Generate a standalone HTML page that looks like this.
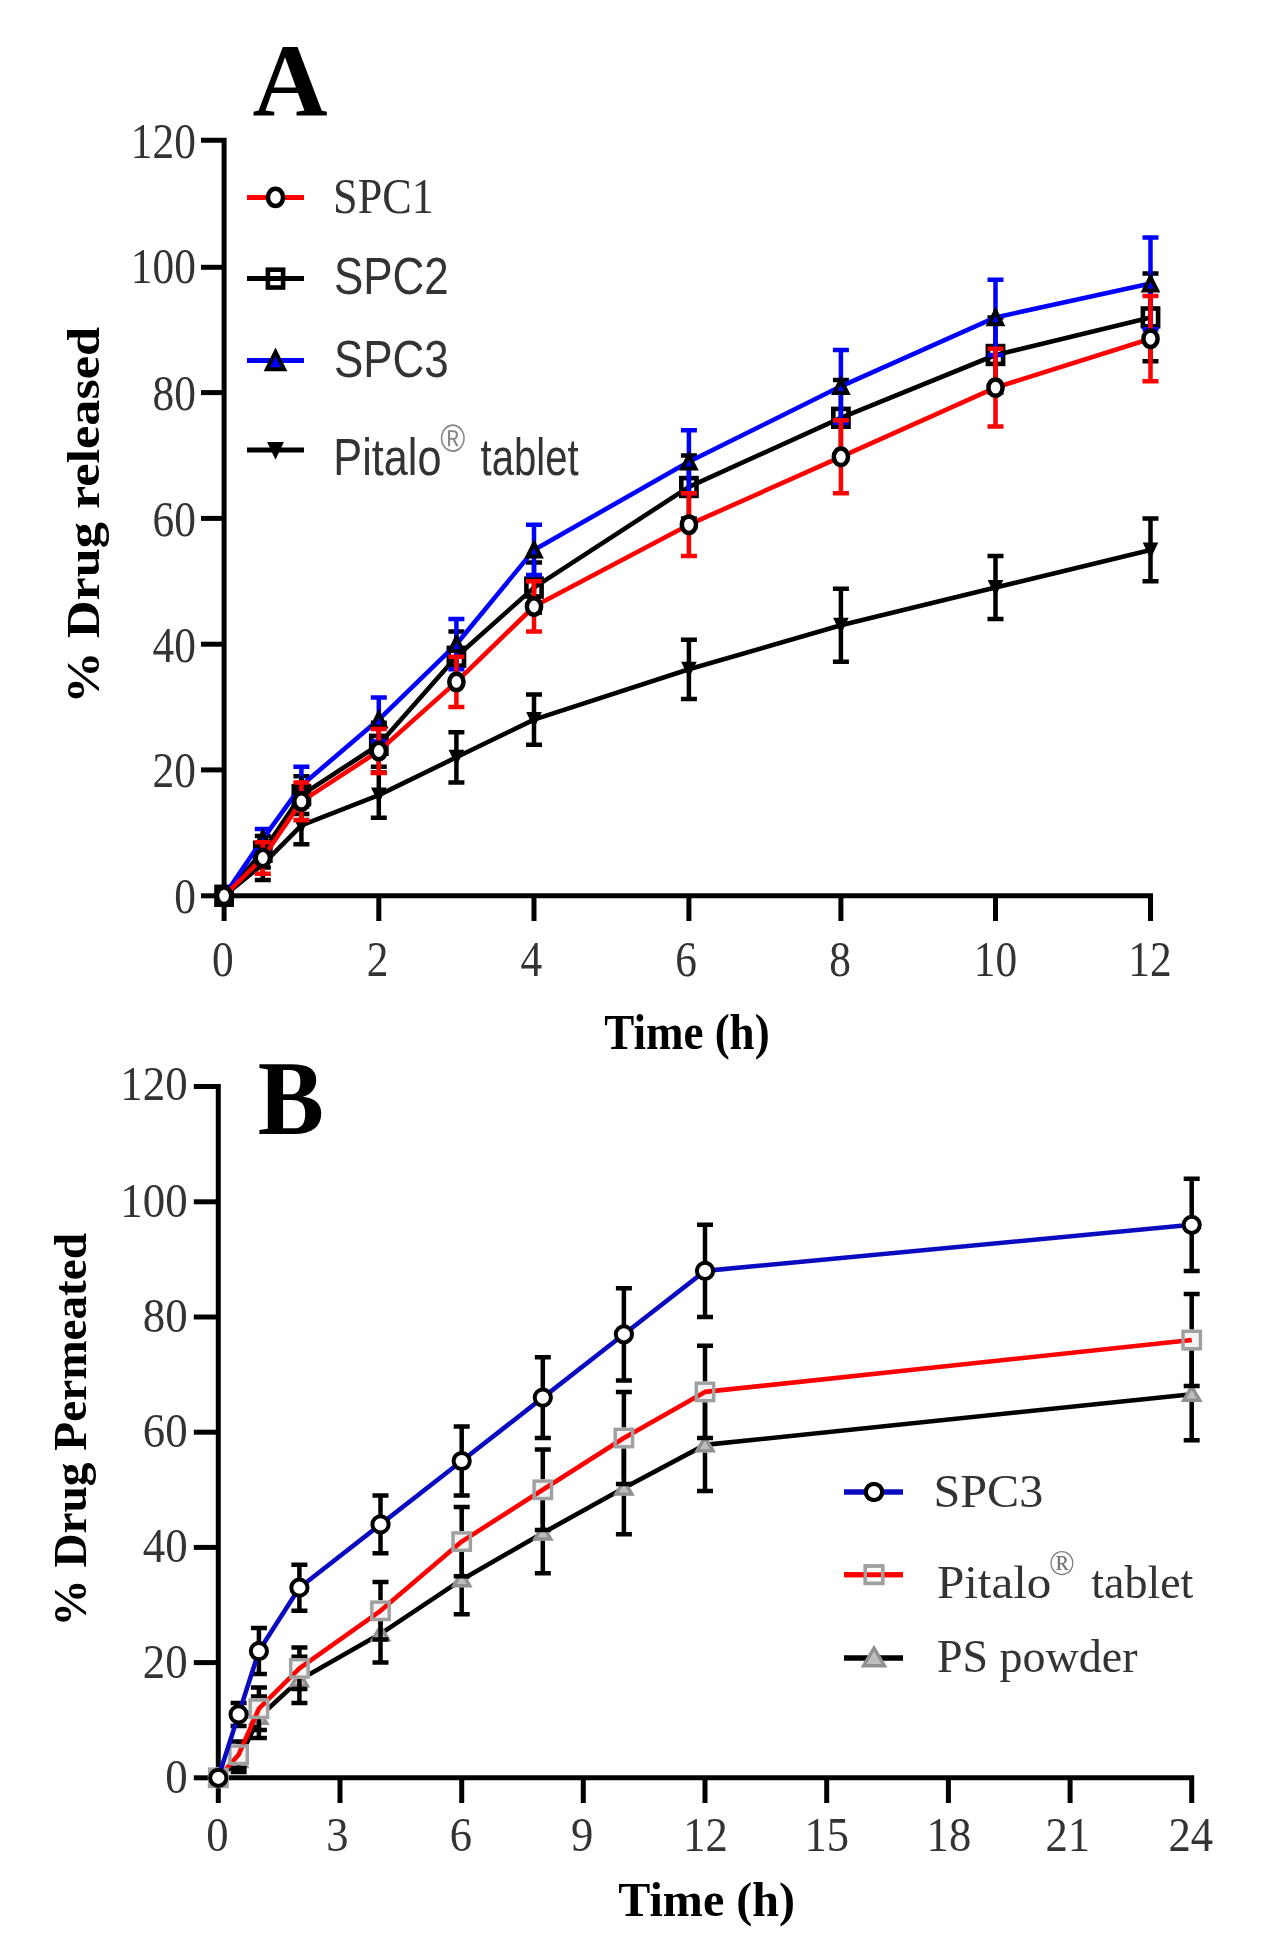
<!DOCTYPE html><html><head><meta charset="utf-8"><style>html,body{margin:0;padding:0;background:#fff;}svg{display:block;will-change:transform}.s{font-family:"Liberation Serif",serif} .n{font-family:"Liberation Sans",sans-serif}</style></head><body>
<svg width="1276" height="1956" viewBox="0 0 1276 1956">
<rect width="1276" height="1956" fill="#fff"/>
<path d="M201,140.2H224.1V895.8H1150.5V921" fill="none" stroke="#000" stroke-width="5.0" stroke-linejoin="miter"/>
<path d="M201,895.8H224.1" stroke="#000" stroke-width="5.0"/>
<path d="M201,769.9H224.1" stroke="#000" stroke-width="5.0"/>
<path d="M201,644.2H224.1" stroke="#000" stroke-width="5.0"/>
<path d="M201,518.4H224.1" stroke="#000" stroke-width="5.0"/>
<path d="M201,392.6H224.1" stroke="#000" stroke-width="5.0"/>
<path d="M201,267.3H224.1" stroke="#000" stroke-width="5.0"/>
<path d="M224.1,895.8V921" stroke="#000" stroke-width="5.0"/>
<path d="M378.8,895.8V921" stroke="#000" stroke-width="5.0"/>
<path d="M534.0,895.8V921" stroke="#000" stroke-width="5.0"/>
<path d="M688.9,895.8V921" stroke="#000" stroke-width="5.0"/>
<path d="M840.9,895.8V921" stroke="#000" stroke-width="5.0"/>
<path d="M995.5,895.8V921" stroke="#000" stroke-width="5.0"/>
<text class="s" font-size="51" text-anchor="end" transform="translate(195.8,913.1) scale(0.85,1)" fill="#333">0</text>
<text class="s" font-size="51" text-anchor="end" transform="translate(195.8,787.2) scale(0.85,1)" fill="#333">20</text>
<text class="s" font-size="51" text-anchor="end" transform="translate(195.8,661.5) scale(0.85,1)" fill="#333">40</text>
<text class="s" font-size="51" text-anchor="end" transform="translate(195.8,535.7) scale(0.85,1)" fill="#333">60</text>
<text class="s" font-size="51" text-anchor="end" transform="translate(195.8,409.9) scale(0.85,1)" fill="#333">80</text>
<text class="s" font-size="51" text-anchor="end" transform="translate(195.8,283.4) scale(0.85,1)" fill="#333">100</text>
<text class="s" font-size="51" text-anchor="end" transform="translate(195.8,157.5) scale(0.85,1)" fill="#333">120</text>
<text class="s" font-size="51" text-anchor="middle" transform="translate(222.8,975.5) scale(0.85,1)" fill="#333">0</text>
<text class="s" font-size="51" text-anchor="middle" transform="translate(377.5,975.5) scale(0.85,1)" fill="#333">2</text>
<text class="s" font-size="51" text-anchor="middle" transform="translate(531.3,975.5) scale(0.85,1)" fill="#333">4</text>
<text class="s" font-size="51" text-anchor="middle" transform="translate(686.1,975.5) scale(0.85,1)" fill="#333">6</text>
<text class="s" font-size="51" text-anchor="middle" transform="translate(840.1,975.5) scale(0.85,1)" fill="#333">8</text>
<text class="s" font-size="51" text-anchor="middle" transform="translate(995.5,975.5) scale(0.85,1)" fill="#333">10</text>
<text class="s" font-size="51" text-anchor="middle" transform="translate(1150.0,975.5) scale(0.85,1)" fill="#333">12</text>
<text class="s" font-weight="bold" font-size="104" transform="translate(252.5,116.2)">A</text>
<text class="s" font-weight="bold" font-size="51.4" transform="translate(604.2,1049.4) scale(0.876,1)">Time (h)</text>
<text class="s" font-weight="bold" font-size="45.5" transform="translate(99.2,703.7) rotate(-90) scale(1.150,1)">% Drug released</text>
<path d="M262.8,848.6V880.1M254.8,848.6H270.8M254.8,880.1H270.8" stroke="#000" stroke-width="4.5" fill="none"/>
<path d="M301.4,806.4V844.2M293.4,806.4H309.4M293.4,844.2H309.4" stroke="#000" stroke-width="4.5" fill="none"/>
<path d="M378.8,772.4V817.7M370.8,772.4H386.8M370.8,817.7H386.8" stroke="#000" stroke-width="4.5" fill="none"/>
<path d="M456.4,732.2V782.5M448.4,732.2H464.4M448.4,782.5H464.4" stroke="#000" stroke-width="4.5" fill="none"/>
<path d="M534.0,694.5V744.8M526.0,694.5H542.0M526.0,744.8H542.0" stroke="#000" stroke-width="4.5" fill="none"/>
<path d="M688.9,639.8V698.9M680.9,639.8H696.9M680.9,698.9H696.9" stroke="#000" stroke-width="4.5" fill="none"/>
<path d="M840.9,588.8V661.8M832.9,588.8H848.9M832.9,661.8H848.9" stroke="#000" stroke-width="4.5" fill="none"/>
<path d="M995.5,556.1V619.0M987.5,556.1H1003.5M987.5,619.0H1003.5" stroke="#000" stroke-width="4.5" fill="none"/>
<path d="M1150.5,518.4V581.3M1142.5,518.4H1158.5M1142.5,581.3H1158.5" stroke="#000" stroke-width="4.5" fill="none"/>
<polyline points="224.1,895.8 262.8,864.3 301.4,825.3 378.8,795.1 456.4,757.3 534.0,719.6 688.9,669.3 840.9,625.3 995.5,587.6 1150.5,549.9" fill="none" stroke="#000" stroke-width="4.6" stroke-linejoin="round"/>
<path d="M216.3,888.3L231.9,888.3L224.1,904.8Z" fill="#000"/>
<path d="M255.0,856.8L270.6,856.8L262.8,873.3Z" fill="#000"/>
<path d="M293.6,817.8L309.2,817.8L301.4,834.3Z" fill="#000"/>
<path d="M371.0,787.6L386.6,787.6L378.8,804.1Z" fill="#000"/>
<path d="M448.6,749.8L464.2,749.8L456.4,766.3Z" fill="#000"/>
<path d="M526.2,712.1L541.8,712.1L534.0,728.6Z" fill="#000"/>
<path d="M681.1,661.8L696.7,661.8L688.9,678.3Z" fill="#000"/>
<path d="M833.1,617.8L848.7,617.8L840.9,634.3Z" fill="#000"/>
<path d="M987.7,580.1L1003.3,580.1L995.5,596.6Z" fill="#000"/>
<path d="M1142.7,542.4L1158.3,542.4L1150.5,558.9Z" fill="#000"/>
<path d="M262.8,836.0V867.5M254.8,836.0H270.8M254.8,867.5H270.8" stroke="#000" stroke-width="4.5" fill="none"/>
<path d="M301.4,776.2V814.0M293.4,776.2H309.4M293.4,814.0H309.4" stroke="#000" stroke-width="4.5" fill="none"/>
<path d="M378.8,722.8V766.8M370.8,722.8H386.8M370.8,766.8H386.8" stroke="#000" stroke-width="4.5" fill="none"/>
<path d="M456.4,631.6V681.9M448.4,631.6H464.4M448.4,681.9H464.4" stroke="#000" stroke-width="4.5" fill="none"/>
<path d="M534.0,562.4V612.8M526.0,562.4H542.0M526.0,612.8H542.0" stroke="#000" stroke-width="4.5" fill="none"/>
<path d="M688.9,455.5V518.4M680.9,455.5H696.9M680.9,518.4H696.9" stroke="#000" stroke-width="4.5" fill="none"/>
<path d="M840.9,380.1V455.5M832.9,380.1H848.9M832.9,455.5H848.9" stroke="#000" stroke-width="4.5" fill="none"/>
<path d="M995.5,317.4V392.6M987.5,317.4H1003.5M987.5,392.6H1003.5" stroke="#000" stroke-width="4.5" fill="none"/>
<path d="M1150.5,273.6V361.3M1142.5,273.6H1158.5M1142.5,361.3H1158.5" stroke="#000" stroke-width="4.5" fill="none"/>
<polyline points="224.1,895.8 262.8,851.7 301.4,795.1 378.8,744.8 456.4,656.8 534.0,587.6 688.9,486.9 840.9,417.8 995.5,355.0 1150.5,317.4" fill="none" stroke="#000" stroke-width="4.6" stroke-linejoin="round"/>
<rect x="216.5" y="886.9" width="15.2" height="17.8" fill="none" stroke="#000" stroke-width="4.6"/>
<rect x="255.2" y="842.8" width="15.2" height="17.8" fill="none" stroke="#000" stroke-width="4.6"/>
<rect x="293.8" y="786.2" width="15.2" height="17.8" fill="none" stroke="#000" stroke-width="4.6"/>
<rect x="371.2" y="735.9" width="15.2" height="17.8" fill="none" stroke="#000" stroke-width="4.6"/>
<rect x="448.8" y="647.9" width="15.2" height="17.8" fill="none" stroke="#000" stroke-width="4.6"/>
<rect x="526.4" y="578.7" width="15.2" height="17.8" fill="none" stroke="#000" stroke-width="4.6"/>
<rect x="681.3" y="478.1" width="15.2" height="17.8" fill="none" stroke="#000" stroke-width="4.6"/>
<rect x="833.3" y="408.9" width="15.2" height="17.8" fill="none" stroke="#000" stroke-width="4.6"/>
<rect x="987.9" y="346.1" width="15.2" height="17.8" fill="none" stroke="#000" stroke-width="4.6"/>
<rect x="1142.9" y="308.5" width="15.2" height="17.8" fill="none" stroke="#000" stroke-width="4.6"/>
<path d="M262.8,829.1V849.2M254.8,829.1H270.8M254.8,849.2H270.8" stroke="#0000ff" stroke-width="4.5" fill="none"/>
<path d="M301.4,766.8V804.5M293.4,766.8H309.4M293.4,804.5H309.4" stroke="#0000ff" stroke-width="4.5" fill="none"/>
<path d="M378.8,697.6V741.6M370.8,697.6H386.8M370.8,741.6H386.8" stroke="#0000ff" stroke-width="4.5" fill="none"/>
<path d="M456.4,619.0V669.3M448.4,619.0H464.4M448.4,669.3H464.4" stroke="#0000ff" stroke-width="4.5" fill="none"/>
<path d="M534.0,524.7V575.0M526.0,524.7H542.0M526.0,575.0H542.0" stroke="#0000ff" stroke-width="4.5" fill="none"/>
<path d="M688.9,430.3V493.2M680.9,430.3H696.9M680.9,493.2H696.9" stroke="#0000ff" stroke-width="4.5" fill="none"/>
<path d="M840.9,350.0V422.8M832.9,350.0H848.9M832.9,422.8H848.9" stroke="#0000ff" stroke-width="4.5" fill="none"/>
<path d="M995.5,279.8V355.0M987.5,279.8H1003.5M987.5,355.0H1003.5" stroke="#0000ff" stroke-width="4.5" fill="none"/>
<path d="M1150.5,237.4V329.3M1142.5,237.4H1158.5M1142.5,329.3H1158.5" stroke="#0000ff" stroke-width="4.5" fill="none"/>
<polyline points="224.1,895.8 262.8,839.1 301.4,785.6 378.8,719.6 456.4,644.2 534.0,549.9 688.9,461.8 840.9,386.3 995.5,317.4 1150.5,283.6" fill="none" stroke="#0000ff" stroke-width="4.6" stroke-linejoin="round"/>
<path d="M224.1,889.3L230.7,902.6L217.5,902.6Z" fill="#0000ff" stroke="#000" stroke-width="4" stroke-linejoin="miter"/>
<path d="M262.8,832.6L269.4,845.9L256.2,845.9Z" fill="#0000ff" stroke="#000" stroke-width="4" stroke-linejoin="miter"/>
<path d="M301.4,779.1L308.1,792.4L294.8,792.4Z" fill="#0000ff" stroke="#000" stroke-width="4" stroke-linejoin="miter"/>
<path d="M378.8,713.1L385.4,726.4L372.2,726.4Z" fill="#0000ff" stroke="#000" stroke-width="4" stroke-linejoin="miter"/>
<path d="M456.4,637.7L463.0,651.0L449.8,651.0Z" fill="#0000ff" stroke="#000" stroke-width="4" stroke-linejoin="miter"/>
<path d="M534.0,543.4L540.6,556.6L527.4,556.6Z" fill="#0000ff" stroke="#000" stroke-width="4" stroke-linejoin="miter"/>
<path d="M688.9,455.3L695.5,468.6L682.3,468.6Z" fill="#0000ff" stroke="#000" stroke-width="4" stroke-linejoin="miter"/>
<path d="M840.9,379.8L847.5,393.1L834.3,393.1Z" fill="#0000ff" stroke="#000" stroke-width="4" stroke-linejoin="miter"/>
<path d="M995.5,310.9L1002.1,324.2L988.9,324.2Z" fill="#0000ff" stroke="#000" stroke-width="4" stroke-linejoin="miter"/>
<path d="M1150.5,277.1L1157.1,290.4L1143.9,290.4Z" fill="#0000ff" stroke="#000" stroke-width="4" stroke-linejoin="miter"/>
<path d="M262.8,842.3V873.8M254.8,842.3H270.8M254.8,873.8H270.8" stroke="#ff0000" stroke-width="4.5" fill="none"/>
<path d="M301.4,782.5V820.3M293.4,782.5H309.4M293.4,820.3H309.4" stroke="#ff0000" stroke-width="4.5" fill="none"/>
<path d="M378.8,729.0V773.0M370.8,729.0H386.8M370.8,773.0H386.8" stroke="#ff0000" stroke-width="4.5" fill="none"/>
<path d="M456.4,656.8V707.0M448.4,656.8H464.4M448.4,707.0H464.4" stroke="#ff0000" stroke-width="4.5" fill="none"/>
<path d="M534.0,581.3V631.6M526.0,581.3H542.0M526.0,631.6H542.0" stroke="#ff0000" stroke-width="4.5" fill="none"/>
<path d="M688.9,493.2V556.1M680.9,493.2H696.9M680.9,556.1H696.9" stroke="#ff0000" stroke-width="4.5" fill="none"/>
<path d="M840.9,420.3V493.2M832.9,420.3H848.9M832.9,493.2H848.9" stroke="#ff0000" stroke-width="4.5" fill="none"/>
<path d="M995.5,348.7V426.6M987.5,348.7H1003.5M987.5,426.6H1003.5" stroke="#ff0000" stroke-width="4.5" fill="none"/>
<path d="M1150.5,296.1V381.3M1142.5,296.1H1158.5M1142.5,381.3H1158.5" stroke="#ff0000" stroke-width="4.5" fill="none"/>
<polyline points="224.1,895.8 262.8,858.0 301.4,801.4 378.8,751.0 456.4,681.9 534.0,606.5 688.9,524.7 840.9,456.8 995.5,387.6 1150.5,338.7" fill="none" stroke="#ff0000" stroke-width="4.6" stroke-linejoin="round"/>
<ellipse cx="224.1" cy="895.8" rx="7.10" ry="8.20" fill="#fff" stroke="#000" stroke-width="4.5"/>
<ellipse cx="262.8" cy="858.0" rx="7.10" ry="8.20" fill="#fff" stroke="#000" stroke-width="4.5"/>
<ellipse cx="301.4" cy="801.4" rx="7.10" ry="8.20" fill="#fff" stroke="#000" stroke-width="4.5"/>
<ellipse cx="378.8" cy="751.0" rx="7.10" ry="8.20" fill="#fff" stroke="#000" stroke-width="4.5"/>
<ellipse cx="456.4" cy="681.9" rx="7.10" ry="8.20" fill="#fff" stroke="#000" stroke-width="4.5"/>
<ellipse cx="534.0" cy="606.5" rx="7.10" ry="8.20" fill="#fff" stroke="#000" stroke-width="4.5"/>
<ellipse cx="688.9" cy="524.7" rx="7.10" ry="8.20" fill="#fff" stroke="#000" stroke-width="4.5"/>
<ellipse cx="840.9" cy="456.8" rx="7.10" ry="8.20" fill="#fff" stroke="#000" stroke-width="4.5"/>
<ellipse cx="995.5" cy="387.6" rx="7.10" ry="8.20" fill="#fff" stroke="#000" stroke-width="4.5"/>
<ellipse cx="1150.5" cy="338.7" rx="7.10" ry="8.20" fill="#fff" stroke="#000" stroke-width="4.5"/>
<path d="M247,197.4H304" stroke="#ff0000" stroke-width="5"/>
<ellipse cx="275.5" cy="197.4" rx="7.53" ry="8.69" fill="#fff" stroke="#000" stroke-width="4.5"/>
<path d="M247,278.6H304" stroke="#000" stroke-width="5"/>
<rect x="267.9" y="269.7" width="15.2" height="17.8" fill="none" stroke="#000" stroke-width="4.6"/>
<path d="M247,360.4H304" stroke="#0000ff" stroke-width="5"/>
<path d="M275.5,351.9L284.1,369.2L266.9,369.2Z" fill="#0000ff" stroke="#000" stroke-width="4" stroke-linejoin="miter"/>
<path d="M247,450.0H304" stroke="#000" stroke-width="5"/>
<path d="M267.1,441.9L283.9,441.9L275.5,459.7Z" fill="#000"/>
<text class="s" font-size="49.9" transform="translate(333.1,212.5) scale(0.885,1)" fill="#333">SPC1</text>
<text class="n" font-size="52" transform="translate(334.0,294.1) scale(0.845,1)" fill="#333">SPC2</text>
<text class="n" font-size="52" transform="translate(334.0,376.7) scale(0.845,1)" fill="#333">SPC3</text>
<text class="n" font-size="51.5" transform="translate(333.3,474.5) scale(0.84,1)" fill="#333">Pitalo</text>
<text class="n" font-size="38.1" transform="translate(440.3,452.3) scale(0.894,1)" fill="#888">®</text>
<text class="n" font-size="51.5" transform="translate(480.6,474.5) scale(0.778,1)" fill="#333">tablet</text>
<path d="M193.8,1086.6H218.3V1777.8H1191.7V1803" fill="none" stroke="#000" stroke-width="5.0" stroke-linejoin="miter"/>
<path d="M193.8,1777.8H218.3" stroke="#000" stroke-width="5.0"/>
<path d="M193.8,1662.6H218.3" stroke="#000" stroke-width="5.0"/>
<path d="M193.8,1547.4H218.3" stroke="#000" stroke-width="5.0"/>
<path d="M193.8,1432.2H218.3" stroke="#000" stroke-width="5.0"/>
<path d="M193.8,1317.0H218.3" stroke="#000" stroke-width="5.0"/>
<path d="M193.8,1201.8H218.3" stroke="#000" stroke-width="5.0"/>
<path d="M218.3,1777.8V1803" stroke="#000" stroke-width="5.0"/>
<path d="M340.0,1777.8V1803" stroke="#000" stroke-width="5.0"/>
<path d="M461.7,1777.8V1803" stroke="#000" stroke-width="5.0"/>
<path d="M583.3,1777.8V1803" stroke="#000" stroke-width="5.0"/>
<path d="M705.0,1777.8V1803" stroke="#000" stroke-width="5.0"/>
<path d="M826.7,1777.8V1803" stroke="#000" stroke-width="5.0"/>
<path d="M948.4,1777.8V1803" stroke="#000" stroke-width="5.0"/>
<path d="M1070.1,1777.8V1803" stroke="#000" stroke-width="5.0"/>
<text class="s" font-size="49.0" text-anchor="end" transform="translate(187.6,1792.7) scale(0.915,1)" fill="#333">0</text>
<text class="s" font-size="49.0" text-anchor="end" transform="translate(187.6,1677.5) scale(0.915,1)" fill="#333">20</text>
<text class="s" font-size="49.0" text-anchor="end" transform="translate(187.6,1562.3) scale(0.915,1)" fill="#333">40</text>
<text class="s" font-size="49.0" text-anchor="end" transform="translate(187.6,1447.1) scale(0.915,1)" fill="#333">60</text>
<text class="s" font-size="49.0" text-anchor="end" transform="translate(187.6,1331.9) scale(0.915,1)" fill="#333">80</text>
<text class="s" font-size="49.0" text-anchor="end" transform="translate(187.6,1216.7) scale(0.915,1)" fill="#333">100</text>
<text class="s" font-size="49.0" text-anchor="end" transform="translate(187.6,1099.5) scale(0.915,1)" fill="#333">120</text>
<text class="s" font-size="48" text-anchor="middle" transform="translate(217.3,1851) scale(0.93,1)" fill="#333">0</text>
<text class="s" font-size="48" text-anchor="middle" transform="translate(337.3,1851) scale(0.93,1)" fill="#333">3</text>
<text class="s" font-size="48" text-anchor="middle" transform="translate(461.0,1851) scale(0.93,1)" fill="#333">6</text>
<text class="s" font-size="48" text-anchor="middle" transform="translate(582.2,1851) scale(0.93,1)" fill="#333">9</text>
<text class="s" font-size="48" text-anchor="middle" transform="translate(705.5,1851) scale(0.93,1)" fill="#333">12</text>
<text class="s" font-size="48" text-anchor="middle" transform="translate(826.7,1851) scale(0.93,1)" fill="#333">15</text>
<text class="s" font-size="48" text-anchor="middle" transform="translate(948.9,1851) scale(0.93,1)" fill="#333">18</text>
<text class="s" font-size="48" text-anchor="middle" transform="translate(1067.7,1851) scale(0.93,1)" fill="#333">21</text>
<text class="s" font-size="48" text-anchor="middle" transform="translate(1190.7,1851) scale(0.93,1)" fill="#333">24</text>
<text class="s" font-weight="bold" font-size="106" transform="translate(257.7,1133.6) scale(0.937,1)">B</text>
<text class="s" font-weight="bold" font-size="48" transform="translate(618.3,1916.2) scale(1.002,1)">Time (h)</text>
<text class="s" font-weight="bold" font-size="45.9" transform="translate(86.1,1626.6) rotate(-90) scale(1.03,1)">% Drug Permeated</text>
<path d="M238.6,1749.0V1751.5M238.6,1768.0V1772.0M230.6,1749.0H246.6M230.6,1772.0H246.6" stroke="#000" stroke-width="4.5" fill="none"/>
<path d="M258.9,1696.6V1708.3M258.9,1724.8V1738.1M250.9,1696.6H266.9M250.9,1738.1H266.9" stroke="#000" stroke-width="4.5" fill="none"/>
<path d="M299.4,1656.8V1670.9M299.4,1687.4V1702.9M291.4,1656.8H307.4M291.4,1702.9H307.4" stroke="#000" stroke-width="4.5" fill="none"/>
<path d="M380.5,1605.0V1624.8M380.5,1641.3V1662.6M372.5,1605.0H388.5M372.5,1662.6H388.5" stroke="#000" stroke-width="4.5" fill="none"/>
<path d="M461.7,1545.1V1570.7M461.7,1587.2V1614.2M453.7,1545.1H469.7M453.7,1614.2H469.7" stroke="#000" stroke-width="4.5" fill="none"/>
<path d="M542.8,1492.7V1524.0M542.8,1540.5V1573.3M534.8,1492.7H550.8M534.8,1573.3H550.8" stroke="#000" stroke-width="4.5" fill="none"/>
<path d="M623.9,1442.0V1479.1M623.9,1495.6V1534.2M615.9,1442.0H631.9M615.9,1534.2H631.9" stroke="#000" stroke-width="4.5" fill="none"/>
<path d="M705.0,1398.8V1435.9M705.0,1452.4V1491.0M697.0,1398.8H713.0M697.0,1491.0H713.0" stroke="#000" stroke-width="4.5" fill="none"/>
<path d="M1191.7,1348.1V1385.2M1191.7,1401.7V1440.3M1183.7,1348.1H1199.7M1183.7,1440.3H1199.7" stroke="#000" stroke-width="4.5" fill="none"/>
<polyline points="218.3,1777.8 238.6,1760.5 258.9,1717.3 299.4,1679.9 380.5,1633.8 461.7,1579.7 542.8,1533.0 623.9,1488.1 705.0,1444.9 1191.7,1394.2" fill="none" stroke="#000" stroke-width="4.6" stroke-linejoin="round"/>
<path d="M218.3,1770.3L226.3,1783.8L210.3,1783.8Z" fill="#bdbdbd" stroke="#909090" stroke-width="3.4" stroke-linejoin="miter"/>
<path d="M238.6,1753.0L246.6,1766.5L230.6,1766.5Z" fill="#bdbdbd" stroke="#909090" stroke-width="3.4" stroke-linejoin="miter"/>
<path d="M258.9,1709.8L266.9,1723.3L250.9,1723.3Z" fill="#bdbdbd" stroke="#909090" stroke-width="3.4" stroke-linejoin="miter"/>
<path d="M299.4,1672.4L307.4,1685.9L291.4,1685.9Z" fill="#bdbdbd" stroke="#909090" stroke-width="3.4" stroke-linejoin="miter"/>
<path d="M380.5,1626.3L388.5,1639.8L372.5,1639.8Z" fill="#bdbdbd" stroke="#909090" stroke-width="3.4" stroke-linejoin="miter"/>
<path d="M461.7,1572.2L469.7,1585.7L453.7,1585.7Z" fill="#bdbdbd" stroke="#909090" stroke-width="3.4" stroke-linejoin="miter"/>
<path d="M542.8,1525.5L550.8,1539.0L534.8,1539.0Z" fill="#bdbdbd" stroke="#909090" stroke-width="3.4" stroke-linejoin="miter"/>
<path d="M623.9,1480.6L631.9,1494.1L615.9,1494.1Z" fill="#bdbdbd" stroke="#909090" stroke-width="3.4" stroke-linejoin="miter"/>
<path d="M705.0,1437.4L713.0,1450.9L697.0,1450.9Z" fill="#bdbdbd" stroke="#909090" stroke-width="3.4" stroke-linejoin="miter"/>
<path d="M1191.7,1386.7L1199.7,1400.2L1183.7,1400.2Z" fill="#bdbdbd" stroke="#909090" stroke-width="3.4" stroke-linejoin="miter"/>
<path d="M238.6,1741.5V1744.6M238.6,1765.0V1768.0M230.6,1741.5H246.6M230.6,1768.0H246.6" stroke="#000" stroke-width="4.5" fill="none"/>
<path d="M258.9,1687.4V1698.5M258.9,1718.9V1730.0M250.9,1687.4H266.9M250.9,1730.0H266.9" stroke="#000" stroke-width="4.5" fill="none"/>
<path d="M299.4,1647.6V1658.2M299.4,1678.6V1689.1M291.4,1647.6H307.4M291.4,1689.1H307.4" stroke="#000" stroke-width="4.5" fill="none"/>
<path d="M380.5,1582.0V1600.6M380.5,1621.0V1639.6M372.5,1582.0H388.5M372.5,1639.6H388.5" stroke="#000" stroke-width="4.5" fill="none"/>
<path d="M461.7,1507.1V1531.4M461.7,1551.8V1576.2M453.7,1507.1H469.7M453.7,1576.2H469.7" stroke="#000" stroke-width="4.5" fill="none"/>
<path d="M542.8,1449.5V1479.6M542.8,1500.0V1530.1M534.8,1449.5H550.8M534.8,1530.1H550.8" stroke="#000" stroke-width="4.5" fill="none"/>
<path d="M623.9,1391.9V1427.8M623.9,1448.2V1484.0M615.9,1391.9H631.9M615.9,1484.0H631.9" stroke="#000" stroke-width="4.5" fill="none"/>
<path d="M705.0,1345.8V1381.7M705.0,1402.1V1438.0M697.0,1345.8H713.0M697.0,1438.0H713.0" stroke="#000" stroke-width="4.5" fill="none"/>
<path d="M1191.7,1294.0V1329.8M1191.7,1350.2V1386.1M1183.7,1294.0H1199.7M1183.7,1386.1H1199.7" stroke="#000" stroke-width="4.5" fill="none"/>
<rect x="207.9" y="1767.4" width="20.8" height="20.8" fill="#f4f4f4"/>
<rect x="228.2" y="1744.4" width="20.8" height="20.8" fill="#f4f4f4"/>
<rect x="248.5" y="1698.3" width="20.8" height="20.8" fill="#f4f4f4"/>
<rect x="289.0" y="1658.0" width="20.8" height="20.8" fill="#f4f4f4"/>
<rect x="370.1" y="1600.4" width="20.8" height="20.8" fill="#f4f4f4"/>
<rect x="451.3" y="1531.2" width="20.8" height="20.8" fill="#f4f4f4"/>
<rect x="532.4" y="1479.4" width="20.8" height="20.8" fill="#f4f4f4"/>
<rect x="613.5" y="1427.6" width="20.8" height="20.8" fill="#f4f4f4"/>
<rect x="694.6" y="1381.5" width="20.8" height="20.8" fill="#f4f4f4"/>
<rect x="1181.3" y="1329.6" width="20.8" height="20.8" fill="#f4f4f4"/>
<polyline points="218.3,1777.8 238.6,1754.8 258.9,1708.7 299.4,1668.4 380.5,1610.8 461.7,1541.6 542.8,1489.8 623.9,1438.0 705.0,1391.9 1191.7,1340.0" fill="none" stroke="#ff0000" stroke-width="4.6" stroke-linejoin="round"/>
<rect x="209.6" y="1769.1" width="17.4" height="17.4" fill="none" stroke="#a0a0a0" stroke-width="3.4"/>
<rect x="229.9" y="1746.1" width="17.4" height="17.4" fill="none" stroke="#a0a0a0" stroke-width="3.4"/>
<rect x="250.2" y="1700.0" width="17.4" height="17.4" fill="none" stroke="#a0a0a0" stroke-width="3.4"/>
<rect x="290.7" y="1659.7" width="17.4" height="17.4" fill="none" stroke="#a0a0a0" stroke-width="3.4"/>
<rect x="371.8" y="1602.1" width="17.4" height="17.4" fill="none" stroke="#a0a0a0" stroke-width="3.4"/>
<rect x="453.0" y="1532.9" width="17.4" height="17.4" fill="none" stroke="#a0a0a0" stroke-width="3.4"/>
<rect x="534.1" y="1481.1" width="17.4" height="17.4" fill="none" stroke="#a0a0a0" stroke-width="3.4"/>
<rect x="615.2" y="1429.3" width="17.4" height="17.4" fill="none" stroke="#a0a0a0" stroke-width="3.4"/>
<rect x="696.3" y="1383.2" width="17.4" height="17.4" fill="none" stroke="#a0a0a0" stroke-width="3.4"/>
<rect x="1183.0" y="1331.3" width="17.4" height="17.4" fill="none" stroke="#a0a0a0" stroke-width="3.4"/>
<path d="M238.6,1702.9V1705.4M238.6,1723.4V1726.0M230.6,1702.9H246.6M230.6,1726.0H246.6" stroke="#000" stroke-width="4.5" fill="none"/>
<path d="M258.9,1628.0V1642.1M258.9,1660.1V1674.1M250.9,1628.0H266.9M250.9,1674.1H266.9" stroke="#000" stroke-width="4.5" fill="none"/>
<path d="M299.4,1564.7V1578.7M299.4,1596.7V1610.8M291.4,1564.7H307.4M291.4,1610.8H307.4" stroke="#000" stroke-width="4.5" fill="none"/>
<path d="M380.5,1495.6V1515.4M380.5,1533.4V1553.2M372.5,1495.6H388.5M372.5,1553.2H388.5" stroke="#000" stroke-width="4.5" fill="none"/>
<path d="M461.7,1426.4V1452.0M461.7,1470.0V1495.6M453.7,1426.4H469.7M453.7,1495.6H469.7" stroke="#000" stroke-width="4.5" fill="none"/>
<path d="M542.8,1357.3V1388.6M542.8,1406.6V1438.0M534.8,1357.3H550.8M534.8,1438.0H550.8" stroke="#000" stroke-width="4.5" fill="none"/>
<path d="M623.9,1288.2V1325.3M623.9,1343.3V1380.4M615.9,1288.2H631.9M615.9,1380.4H631.9" stroke="#000" stroke-width="4.5" fill="none"/>
<path d="M705.0,1224.8V1261.9M705.0,1279.9V1317.0M697.0,1224.8H713.0M697.0,1317.0H713.0" stroke="#000" stroke-width="4.5" fill="none"/>
<path d="M1191.7,1178.8V1215.8M1191.7,1233.8V1270.9M1183.7,1178.8H1199.7M1183.7,1270.9H1199.7" stroke="#000" stroke-width="4.5" fill="none"/>
<polyline points="218.3,1777.8 238.6,1714.4 258.9,1651.1 299.4,1587.7 380.5,1524.4 461.7,1461.0 542.8,1397.6 623.9,1334.3 705.0,1270.9 1191.7,1224.8" fill="none" stroke="#0a0ac0" stroke-width="4.6" stroke-linejoin="round"/>
<circle cx="218.3" cy="1777.8" r="8.1" fill="#fff" stroke="#000" stroke-width="4"/>
<circle cx="238.6" cy="1714.4" r="8.1" fill="#fff" stroke="#000" stroke-width="4"/>
<circle cx="258.9" cy="1651.1" r="8.1" fill="#fff" stroke="#000" stroke-width="4"/>
<circle cx="299.4" cy="1587.7" r="8.1" fill="#fff" stroke="#000" stroke-width="4"/>
<circle cx="380.5" cy="1524.4" r="8.1" fill="#fff" stroke="#000" stroke-width="4"/>
<circle cx="461.7" cy="1461.0" r="8.1" fill="#fff" stroke="#000" stroke-width="4"/>
<circle cx="542.8" cy="1397.6" r="8.1" fill="#fff" stroke="#000" stroke-width="4"/>
<circle cx="623.9" cy="1334.3" r="8.1" fill="#fff" stroke="#000" stroke-width="4"/>
<circle cx="705.0" cy="1270.9" r="8.1" fill="#fff" stroke="#000" stroke-width="4"/>
<circle cx="1191.7" cy="1224.8" r="8.1" fill="#fff" stroke="#000" stroke-width="4"/>
<path d="M844,1492H903" stroke="#0a0ac0" stroke-width="5"/>
<circle cx="874.0" cy="1492.0" r="8.1" fill="#fff" stroke="#000" stroke-width="4"/>
<path d="M844,1492H903" stroke="#0a0ac0" stroke-width="5"/>
<circle cx="874.0" cy="1492.0" r="8.1" fill="#fff" stroke="#000" stroke-width="4"/>
<path d="M844,1574.7H903" stroke="#ff0000" stroke-width="5"/>
<rect x="865.3" y="1566.0" width="17.4" height="17.4" fill="#fff" stroke="#a0a0a0" stroke-width="3.4"/>
<path d="M844,1574.7H903" stroke="#ff0000" stroke-width="5"/>
<rect x="865.3" y="1566.0" width="17.4" height="17.4" fill="none" stroke="#a0a0a0" stroke-width="3.4"/>
<path d="M844,1657.9H903" stroke="#000" stroke-width="5"/>
<path d="M844,1657.9H903" stroke="#000" stroke-width="5"/>
<path d="M874.0,1648.2L884.4,1665.7L863.6,1665.7Z" fill="#bdbdbd" stroke="#909090" stroke-width="3.4" stroke-linejoin="miter"/>
<text class="s" font-size="46" transform="translate(933.6,1506.5) scale(1.046,1)" fill="#333">SPC3</text>
<text class="s" font-size="46" transform="translate(936.9,1597.8) scale(1.067,1)" fill="#333">Pitalo</text>
<text class="s" font-size="36.4" transform="translate(1049.1,1575.4) scale(0.934,1)" fill="#777">®</text>
<text class="s" font-size="46" transform="translate(1091.2,1597.8)" fill="#333">tablet</text>
<text class="s" font-size="46" transform="translate(936.9,1672.4)" fill="#333">PS powder</text>
</svg></body></html>
